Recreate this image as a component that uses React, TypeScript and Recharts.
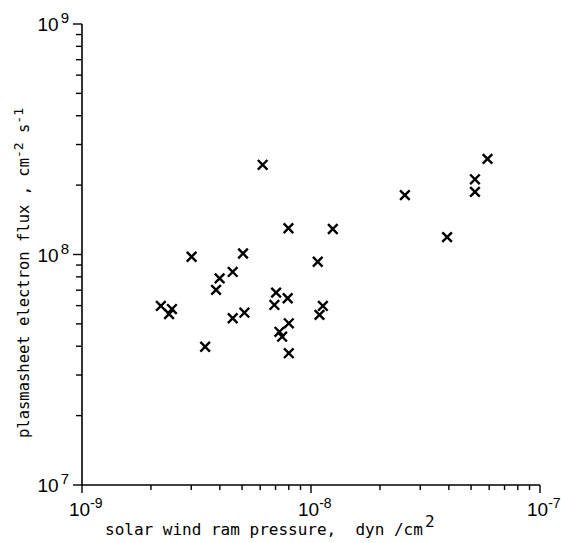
import React from 'react';
import { ScatterChart, Scatter, XAxis, YAxis, Label } from 'recharts';

// solar wind ram pressure, dyn/cm^2
const pressure = [
  3.01e-9, 5.05e-9, 4.55e-9, 3.99e-9, 3.85e-9, 2.21e-9, 2.47e-9, 2.40e-9, 4.55e-9, 5.12e-9,
  3.45e-9, 6.15e-9, 7.97e-9, 1.245e-8, 1.07e-8, 7.04e-9, 7.91e-9, 6.92e-9, 8.0e-9, 7.28e-9,
  7.48e-9, 8.0e-9, 1.127e-8, 1.089e-8, 5.9e-8, 5.2e-8, 5.2e-8, 2.57e-8, 3.93e-8,
];
// plasmasheet electron flux, cm^-2 s^-1
const flux = [
  9.78e7, 1.01e8, 8.4e7, 7.88e7, 7.02e7, 5.98e7, 5.8e7, 5.52e7, 5.29e7, 5.59e7,
  3.98e7, 2.45e8, 1.3e8, 1.29e8, 9.3e7, 6.83e7, 6.46e7, 6.04e7, 5.03e7, 4.62e7,
  4.4e7, 3.73e7, 5.98e7, 5.47e7, 2.6e8, 2.12e8, 1.87e8, 1.81e8, 1.19e8,
];

const xDecades = [-9, -8, -7];
const yDecades = [7, 8, 9];
const mantissas = [1, 2, 3, 4, 5, 6, 7, 8, 9];

const buildTicks = (decades: number[]) => {
  const out: number[] = [];
  decades.forEach((d, i) => {
    if (i === decades.length - 1) {
      out.push(Math.pow(10, d));
    } else {
      mantissas.forEach((m) => out.push(m * Math.pow(10, d)));
    }
  });
  return out;
};
const xTicks = buildTicks(xDecades);
const yTicks = buildTicks(yDecades);

const data = pressure.map((p, i) => ({ p, f: flux[i] }));

const isMajor = (v: number) => {
  const l = Math.log10(v);
  return Math.abs(l - Math.round(l)) < 1e-6;
};

const TICK_FONT = "'Liberation Sans Narrow', 'Liberation Sans', Arial, sans-serif";
const TITLE_FONT = "'DejaVu Sans Mono', monospace";

const XTick = (props: any) => {
  const { x, y, payload } = props;
  const v = payload.value;
  const major = isMajor(v);
  return (
    <g>
      <line x1={x} y1={y} x2={x} y2={y + (major ? 8 : 5)} stroke="#000" strokeWidth={1.4} />
      {major && (
        <text x={x - 13} y={y + 31} textAnchor="start" fontFamily={TICK_FONT} fontSize={19} fill="#000">
          <tspan>10</tspan>
          <tspan dy={-8} fontSize={14}>{String(Math.round(Math.log10(v)))}</tspan>
        </text>
      )}
    </g>
  );
};

const YTick = (props: any) => {
  const { x, y, payload } = props;
  const v = payload.value;
  const major = isMajor(v);
  return (
    <g>
      <line x1={x - (major ? 9 : 6)} y1={y} x2={x} y2={y} stroke="#000" strokeWidth={1.4} />
      {major && (
        <text x={x - 13} y={y + 7} textAnchor="end" fontFamily={TICK_FONT} fontSize={19} fill="#000">
          <tspan>10</tspan>
          <tspan dy={-8} dx={2} fontSize={15}>{String(Math.round(Math.log10(v)))}</tspan>
        </text>
      )}
    </g>
  );
};

const Cross = (props: any) => {
  const { cx, cy } = props;
  const r = 4.8;
  return (
    <path
      d={`M${cx - r},${cy - r}L${cx + r},${cy + r}M${cx - r},${cy + r}L${cx + r},${cy - r}`}
      stroke="#000"
      strokeWidth={2.4}
      fill="none"
    />
  );
};

const XTitle = () => (
  <text
    x={105}
    y={535}
    fontFamily={TITLE_FONT}
    fontSize={16}
    fill="#000"
    style={{ whiteSpace: 'pre' }}
  >
    <tspan>{'solar wind ram pressure,  dyn /cm'}</tspan>
    <tspan dy={-8} dx={2} fontSize={16}>2</tspan>
  </text>
);

const YTitle = () => (
  <text
    x={29}
    y={438}
    transform="rotate(-90, 29, 438)"
    fontFamily={TITLE_FONT}
    fontSize={15.5}
    fill="#000"
    textLength={330}
    lengthAdjust="spacing"
    style={{ whiteSpace: 'pre' }}
  >
    <tspan>{'plasmasheet electron flux , cm'}</tspan>
    <tspan dy={-6} fontSize={13}>-2</tspan>
    <tspan dy={6}>{' s'}</tspan>
    <tspan dy={-6} fontSize={13}>-1</tspan>
  </text>
);

export default function App() {
  return (
    <div style={{ position: 'absolute', left: 0, top: 0, width: 561, height: 543, background: '#fff' }}>
      <ScatterChart width={561} height={543} margin={{ top: 24, right: 21, bottom: 0, left: 0 }}>
        <XAxis
          dataKey="p"
          type="number"
          scale="log"
          domain={[1e-9, 1e-7]}
          ticks={xTicks}
          interval={0}
          allowDataOverflow
          height={58}
          tickSize={0}
          tickMargin={0}
          tickLine={false}
          tick={XTick}
          axisLine={{ stroke: '#000', strokeWidth: 1.6 }}
        >
          <Label content={XTitle} />
        </XAxis>
        <YAxis
          dataKey="f"
          type="number"
          scale="log"
          domain={[1e7, 1e9]}
          ticks={yTicks}
          interval={0}
          allowDataOverflow
          width={82}
          tickSize={0}
          tickMargin={0}
          tickLine={false}
          tick={YTick}
          axisLine={{ stroke: '#000', strokeWidth: 1.6 }}
        >
          <Label content={YTitle} />
        </YAxis>
        <Scatter data={data} shape={Cross} isAnimationActive={false} />
      </ScatterChart>
    </div>
  );
}
